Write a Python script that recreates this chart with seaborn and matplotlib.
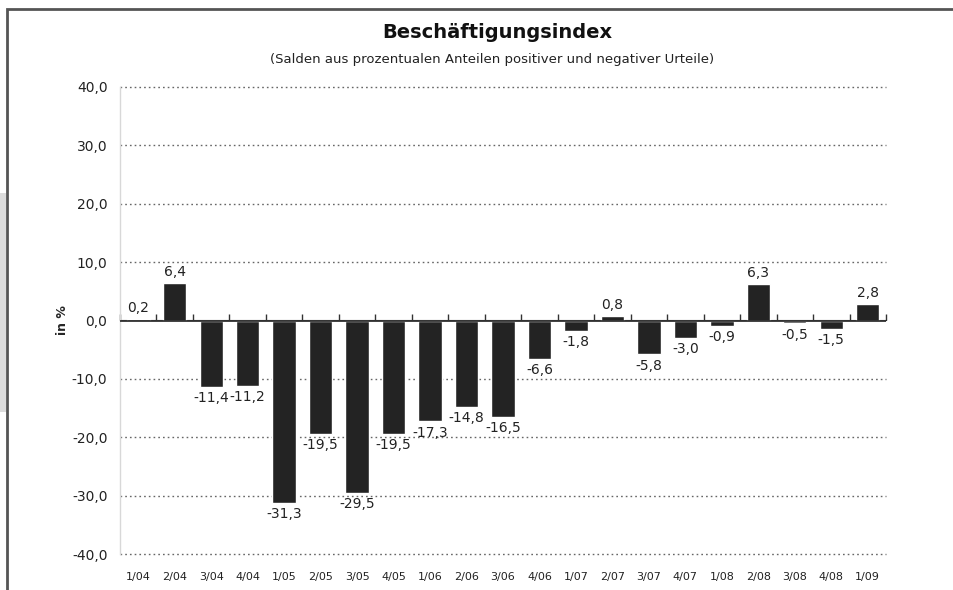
import numpy as np
import pandas as pd
import seaborn as sns
import matplotlib.pyplot as plt
from matplotlib.patches import Rectangle

# data
quarters = ['1/04', '2/04', '3/04', '4/04', '1/05', '2/05', '3/05', '4/05', '1/06', '2/06', '3/06',
            '4/06', '1/07', '2/07', '3/07', '4/07', '1/08', '2/08', '3/08', '4/08', '1/09']
index_values = [0.2, 6.4, -11.4, -11.2, -31.3, -19.5, -29.5, -19.5, -17.3, -14.8, -16.5,
                -6.6, -1.8, 0.8, -5.8, -3.0, -0.9, 6.3, -0.5, -1.5, 2.8]
y_ticks = [-40, -30, -20, -10, 0, 10, 20, 30, 40]

df = pd.DataFrame({'Quartal': quarters, 'Index': index_values})

sns.set_style('white')
plt.rcParams['font.family'] = ['DejaVu Sans']

fig = plt.figure(figsize=(9.54, 5.9), dpi=100)
W, H = 954, 590
ax = fig.add_axes([120 / W, 1 - 554 / H, (886 - 120) / W, (554 - 87) / H])

sns.barplot(data=df, x='Quartal', y='Index', color='#232323', saturation=1, width=0.64, ax=ax)

ax.set_ylim(-40, 40)
ax.set_xlim(-0.5, len(quarters) - 0.5)
ax.set_yticks(y_ticks)
ax.set_yticklabels([f'{t:.1f}'.replace('.', ',') for t in y_ticks], fontsize=10, color='#222222')
ax.tick_params(axis='y', length=0, pad=9)
ax.tick_params(axis='x', length=0, labelsize=8, labelcolor='#222222', pad=13)
ax.set_xlabel('')
ax.set_ylabel('in %', fontsize=9, fontweight='bold', labelpad=2)

for t in y_ticks:
    if t != 0:
        ax.axhline(t, color='#666666', lw=1, ls=(0, (1.2, 2.2)), zorder=0, clip_on=False)
ax.axhline(0, color='#333333', lw=1.3, zorder=3)

for s in ['top', 'right', 'bottom']:
    ax.spines[s].set_visible(False)
ax.spines['left'].set_color('#d8d8d8')
ax.spines['left'].set_linewidth(1)

# tick marks on the zero line between categories
sec = ax.secondary_xaxis(0.5)
sec.set_xticks(np.arange(-0.5, len(quarters), 1.0))
sec.set_xticklabels([])
sec.tick_params(direction='out', length=4, color='#333333', width=1)
sec.spines['bottom'].set_visible(False)

# value labels
for cont in ax.containers:
    ax.bar_label(cont, labels=[f'{v:.1f}'.replace('.', ',') for v in index_values],
                 padding=3, fontsize=10, color='#222222')

fig.text(497 / W, 1 - 33 / H, 'Beschäftigungsindex', ha='center', va='center',
         fontsize=14, fontweight='bold', color='#111111')
fig.text(492 / W, 1 - 60 / H, '(Salden aus prozentualen Anteilen positiver und negativer Urteile)',
         ha='center', va='center', fontsize=9.5, color='#222222')

# frame and grey side band
fig.patches.append(Rectangle((7 / W, -0.01), 1.0, 1 - 9 / H + 0.01, transform=fig.transFigure,
                             fill=False, edgecolor='#555555', lw=2, zorder=0))
fig.patches.append(Rectangle((0, 1 - 412 / H), 6 / W, (412 - 193) / H, transform=fig.transFigure,
                             facecolor='#dcdcdc', edgecolor='none', zorder=0))

fig.savefig('out.png', dpi=100)
